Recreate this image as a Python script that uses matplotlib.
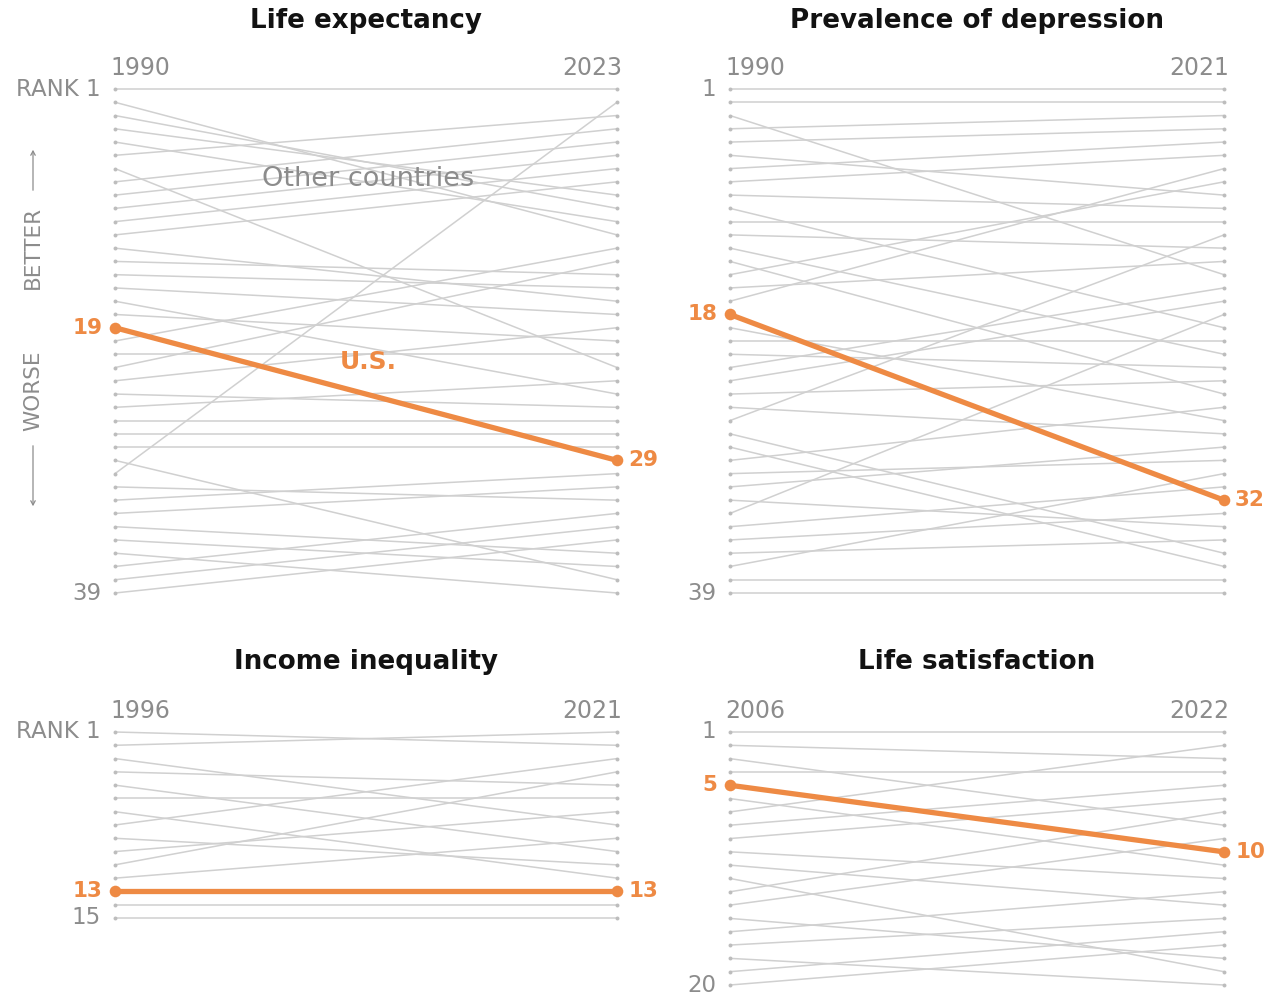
import matplotlib
matplotlib.use("Agg")
import matplotlib.pyplot as plt
from matplotlib.patches import FancyArrowPatch

# ---------------- data ----------------
# Life expectancy (39 countries), ranks 1990 -> 2023
le_n = 39
le_years = ["1990", "2023"]
le_start = [1, 2, 3, 4, 5, 6, 7, 8, 9, 10, 11, 12, 13, 14, 15, 16, 17, 18,
            20, 21, 22, 23, 24, 25, 26, 27, 28, 29, 30, 31, 32, 33, 34, 35, 36, 37, 38, 39]
le_end = [1, 12, 10, 9, 11, 3, 22, 4, 5, 6, 7, 8, 17, 15, 16, 18, 24, 20,
          13, 21, 14, 19, 25, 23, 26, 27, 28, 38, 2, 32, 30, 31, 36, 37, 39, 33, 34, 35]
le_us = [19, 29]

# Prevalence of depression (39 countries), ranks 1990 -> 2021
dep_n = 39
dep_years = ["1990", "2021"]
dep_start = [1, 2, 3, 4, 5, 6, 7, 8, 9, 10, 11, 12, 13, 14, 15, 16, 17,
             19, 20, 21, 22, 23, 24, 25, 26, 27, 28, 29, 30, 31, 32, 33, 34, 35, 36, 37, 38, 39]
dep_end = [1, 2, 15, 3, 4, 9, 5, 6, 10, 19, 11, 13, 21, 24, 8, 14, 7,
           26, 20, 22, 16, 17, 23, 27, 12, 36, 37, 25, 29, 28, 34, 18, 31, 33, 35, 30, 38, 39]
dep_us = [18, 32]

# Income inequality (15 countries), ranks 1996 -> 2021
inc_n = 15
inc_years = ["1996", "2021"]
inc_start = [1, 2, 3, 4, 5, 6, 7, 8, 9, 10, 11, 12, 14, 15]
inc_end = [2, 1, 8, 5, 10, 6, 12, 3, 11, 7, 4, 9, 14, 15]
inc_us = [13, 13]

# Life satisfaction (20 countries), ranks 2006 -> 2022
sat_n = 20
sat_years = ["2006", "2022"]
sat_start = [1, 2, 3, 4, 6, 7, 8, 9, 10, 11, 12, 13, 14, 15, 16, 17, 18, 19, 20]
sat_end = [1, 3, 8, 4, 11, 2, 5, 6, 12, 14, 19, 7, 9, 18, 13, 15, 20, 16, 17]
sat_us = [5, 10]

# ---------------- style ----------------
W, H = 1269, 998
ORANGE = "#ee8a44"
GRAY_LINE = "#d0d0d0"
GRAY_DOT = "#bdbdbd"
GRAY_TXT = "#8c8c8c"
plt.rcParams["font.family"] = ["DejaVu Sans"]

fig = plt.figure(figsize=(W / 100, H / 100), dpi=100)
fig.patch.set_facecolor("white")


def panel(x0, x1, y_top, y_bot, n, starts, ends, us, years, title, title_y,
          year_y, top_label):
    ax = fig.add_axes([x0 / W, 1 - y_bot / H, (x1 - x0) / W, (y_bot - y_top) / H])
    ax.set_xlim(0, 1)
    ax.set_ylim(n, 1)
    ax.axis("off")
    for s, e in zip(starts, ends):
        ax.plot([0, 1], [s, e], color=GRAY_LINE, lw=1.1, zorder=1,
                clip_on=False, solid_capstyle="butt")
    ranks = list(range(1, n + 1))
    ax.scatter([0] * n, ranks, s=8, color=GRAY_DOT, zorder=2, clip_on=False,
               linewidths=0)
    ax.scatter([1] * n, ranks, s=8, color=GRAY_DOT, zorder=2, clip_on=False,
               linewidths=0)
    ax.plot([0, 1], us, color=ORANGE, lw=3.8, zorder=3, clip_on=False,
            solid_capstyle="round")
    ax.scatter([0, 1], us, s=70, color=ORANGE, zorder=4, clip_on=False,
               linewidths=0)
    # rank labels
    ax.annotate(top_label, xy=(0, 1), xytext=(-10, 0), textcoords="offset points",
                ha="right", va="center", color=GRAY_TXT, fontsize=16.5)
    ax.annotate(str(n), xy=(0, n), xytext=(-10, 0), textcoords="offset points",
                ha="right", va="center", color=GRAY_TXT, fontsize=16.5)
    ax.annotate(str(us[0]), xy=(0, us[0]), xytext=(-9, 0), textcoords="offset points",
                ha="right", va="center", color=ORANGE, fontsize=15.5,
                fontweight="bold")
    ax.annotate(str(us[1]), xy=(1, us[1]), xytext=(8, 0), textcoords="offset points",
                ha="left", va="center", color=ORANGE, fontsize=15.5,
                fontweight="bold")
    # years
    fig.text((x0 - 5) / W, 1 - year_y / H, years[0], ha="left", va="center",
             color=GRAY_TXT, fontsize=17)
    fig.text((x1 + 5) / W, 1 - year_y / H, years[1], ha="right", va="center",
             color=GRAY_TXT, fontsize=17)
    fig.text(((x0 + x1) / 2) / W, 1 - title_y / H, title, ha="center",
             va="center", color="#121212", fontsize=18.8, fontweight="bold")
    return ax


ax1 = panel(115, 617, 89, 593, le_n, le_start, le_end, le_us, le_years,
            "Life expectancy", 21, 68, "RANK 1")
ax2 = panel(730, 1224, 89, 593, dep_n, dep_start, dep_end, dep_us, dep_years,
            "Prevalence of depression", 21, 68, "1")
ax3 = panel(115, 617, 732, 918, inc_n, inc_start, inc_end, inc_us, inc_years,
            "Income inequality", 662, 711, "RANK 1")
ax4 = panel(730, 1224, 732, 985, sat_n, sat_start, sat_end, sat_us, sat_years,
            "Life satisfaction", 662, 711, "1")

# annotations in first panel
ax1.text(0.505, 7.8, "Other countries", ha="center", va="center", color=GRAY_TXT,
         fontsize=19.5, zorder=5)
ax1.text(0.505, 21.6, "U.S.", ha="center", va="center", color=ORANGE,
         fontsize=18, fontweight="bold", zorder=5)

# better / worse
fig.text(33 / W, 1 - 247 / H, "BETTER", rotation=90, ha="center", va="center",
         color=GRAY_TXT, fontsize=15.5)
fig.text(33 / W, 1 - 391 / H, "WORSE", rotation=90, ha="center", va="center",
         color=GRAY_TXT, fontsize=15.5)
fig.add_artist(FancyArrowPatch(
    (33 / W, 1 - 193 / H), (33 / W, 1 - 147 / H), transform=fig.transFigure,
    arrowstyle="->,head_length=3,head_width=1.6", color=GRAY_TXT, lw=0.9))
fig.add_artist(FancyArrowPatch(
    (33 / W, 1 - 443 / H), (33 / W, 1 - 509 / H), transform=fig.transFigure,
    arrowstyle="->,head_length=3,head_width=1.6", color=GRAY_TXT, lw=0.9))

fig.savefig("out.png", dpi=100, facecolor="white")
